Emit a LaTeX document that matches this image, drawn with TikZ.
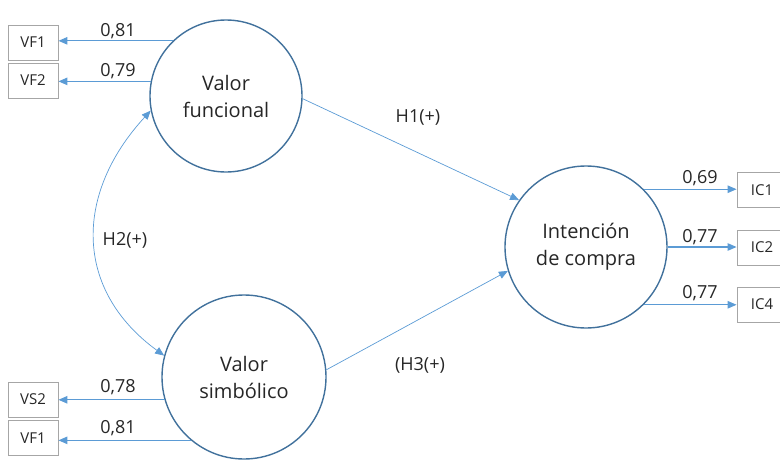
\documentclass[tikz,border=0pt]{standalone}
\usepackage{fontspec}
\setmainfont{Open Sans}
\usetikzlibrary{arrows.meta}
\definecolor{circ}{HTML}{41719C}
\definecolor{lin}{HTML}{5B9BD5}
\definecolor{boxc}{HTML}{A6A6A6}
\definecolor{txt}{HTML}{262626}
\tikzset{
  latent/.style={circle, draw=circ, line width=1.4pt, minimum size=#1, inner sep=0pt, align=center, text=txt, font=\fontsize{20}{27}\selectfont},
  ind/.style={draw=boxc, line width=0.9pt, minimum width=50pt, minimum height=35pt, inner sep=0pt, text=txt, font=\fontsize{15}{18}\selectfont},
  load/.style={draw=lin, line width=1.1pt, -{Triangle[length=9pt,width=7.5pt]}},
  hyp/.style={draw=lin, line width=0.7pt, -{Triangle[length=9pt,width=7.5pt]}},
  lbl/.style={text=txt, font=\fontsize{18}{20}\selectfont, inner sep=0pt},
}
\begin{document}
\begin{tikzpicture}[x=1pt,y=-1pt]
\useasboundingbox (0,0) rectangle (780,463);
\begin{scope}
\clip (0,0) rectangle (780,463);
\node[latent=152pt] (fv) at (226,96) {Valor\\funcional};
\node[latent=164pt] (vs) at (244,377) {Valor\\simbólico};
\node[latent=162pt] (ic) at (586,247) {Intención\\de compra};

\node[ind] (vf1) at (33,42.5) {VF1};
\node[ind] (vf2) at (33,80.5) {VF2};
\node[ind] (vs2) at (33,399.5) {VS2};
\node[ind] (vf1b) at (33,438) {VF1};
\node[ind] (ic1) at (762,190) {IC1};
\node[ind] (ic2) at (762,247.5) {IC2};
\node[ind] (ic4) at (762,304.5) {IC4};

\draw[load] (fv.134) -- (fv.134 -| vf1.east);
\draw[load] (fv.169) -- (fv.169 -| vf2.east);
\draw[load] (vs.196) -- (vs.196 -| vs2.east);
\draw[load] (vs.230) -- (vs.230 -| vf1b.east);
\draw[load] (ic.45) -- (ic.45 -| ic1.west);
\draw[load] (ic.0) -- (ic.0 -| ic2.west);
\draw[load] (ic.-45) -- (ic.-45 -| ic4.west);

\node[lbl] (l1) at (118,31) {0,81};
\node[lbl] (l2) at (118,71) {0,79};
\node[lbl] (l3) at (118,387) {0,78};
\node[lbl] (l4) at (118,428) {0,81};
\node[lbl] (l5) at (700,178) {0,69};
\node[lbl] (l6) at (700,237) {0,77};
\node[lbl] (l7) at (700,293) {0,77};

\draw[hyp] (fv.-2) -- (ic.145);
\draw[hyp] (vs.5) -- (ic.197);
\draw[hyp, {Triangle[length=9pt,width=7.5pt]}-{Triangle[length=9pt,width=7.5pt]}] (fv.191) .. controls (74,194) and (74,290) .. (vs.165);

\node[lbl] (h1) at (418,117) {H1(+)};
\node[lbl] (h2) at (125,240) {H2(+)};
\node[lbl] (h3) at (420,365) {(H3(+)};
\end{scope}
\end{tikzpicture}
\end{document}
